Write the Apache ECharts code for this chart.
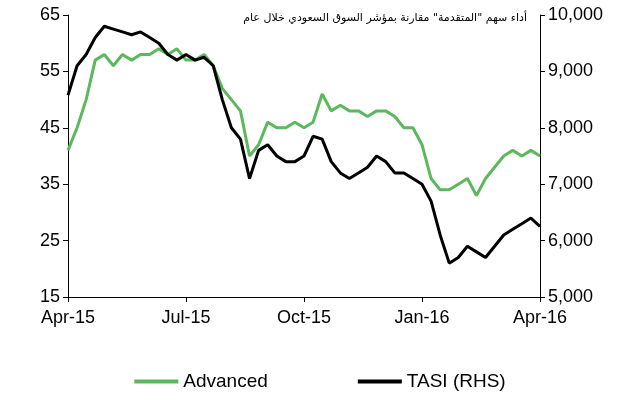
<!DOCTYPE html>
<html>
<head>
<meta charset="utf-8">
<script src="https://cdn.jsdelivr.net/npm/echarts@6/dist/echarts.min.js"></script>
<style>body{margin:0;background:#fff}#c{width:640px;height:400px}</style>
</head>
<body>
<div id="c"></div>
<script>
const weeks = [];
for (let i = 0; i < 53; i++) weeks.push('w' + i);
const tickLabels = { 0: 'Apr-15', 13: 'Jul-15', 26: 'Oct-15', 39: 'Jan-16', 52: 'Apr-16' };
const advanced = [41, 45, 50, 57, 58, 56, 58, 57, 58, 58, 59, 58, 59, 57, 57, 58, 56, 52, 50, 48,
  40, 42, 46, 45, 45, 46, 45, 46, 51, 48, 49, 48, 48, 47, 48, 48, 47, 45, 45, 42,
  36, 34, 34, 35, 36, 33, 36, 38, 40, 41, 40, 41, 40];
const tasi = [8580, 9100, 9300, 9600, 9800, 9750, 9700, 9650, 9700, 9600, 9500, 9300, 9200, 9300, 9200, 9250, 9100, 8500, 8000, 7800,
  7100, 7600, 7700, 7500, 7400, 7400, 7500, 7850, 7800, 7400, 7200, 7100, 7200, 7300, 7500, 7400, 7200, 7200, 7100, 7000,
  6700, 6100, 5600, 5700, 5900, 5800, 5700, 5900, 6100, 6200, 6300, 6400, 6250, 6150];
tasi.length = 53;

const chart = echarts.init(document.getElementById('c'));
chart.setOption({
  animation: false,
  title: {
    text: 'أداء سهم "المتقدمة" مقارنة بمؤشر السوق السعودي خلال عام',
    right: 108, top: 8,
    textStyle: { fontSize: 11, fontWeight: 'normal', color: '#000', fontFamily: 'DejaVu Sans' }
  },
  legend: {
    bottom: 4, itemGap: 90, itemWidth: 44, icon: 'rect', itemHeight: 4,
    textStyle: { fontSize: 19, color: '#000', fontFamily: 'Liberation Sans' },
    data: ['Advanced', 'TASI (RHS)']
  },
  grid: { left: 68, right: 100, top: 15, bottom: 103 },
  xAxis: {
    type: 'category', data: weeks, boundaryGap: false,
    axisLine: { lineStyle: { color: '#000' } },
    axisTick: { show: true, interval: (i) => i in tickLabels, lineStyle: { color: '#000' } },
    axisLabel: {
      interval: (i) => i in tickLabels, formatter: (v, i) => tickLabels[i] || '',
      fontSize: 18, color: '#000', fontFamily: 'Liberation Sans', margin: 12
    }
  },
  yAxis: [
    {
      type: 'value', min: 15, max: 65, interval: 10,
      axisLine: { show: true, lineStyle: { color: '#000' } },
      axisTick: { show: true, lineStyle: { color: '#000' } },
      splitLine: { show: false },
      axisLabel: { fontSize: 18, color: '#000', fontFamily: 'Liberation Sans' }
    },
    {
      type: 'value', min: 5000, max: 10000, interval: 1000,
      axisLine: { show: true, lineStyle: { color: '#000' } },
      axisTick: { show: true, lineStyle: { color: '#000' } },
      splitLine: { show: false },
      axisLabel: { fontSize: 18, color: '#000', fontFamily: 'Liberation Sans',
        formatter: (v) => v.toLocaleString('en-US') }
    }
  ],
  series: [
    { name: 'Advanced', type: 'line', data: advanced, yAxisIndex: 0, showSymbol: false,
      itemStyle: { color: '#5cb85c' }, lineStyle: { color: '#5cb85c', width: 3 } },
    { name: 'TASI (RHS)', type: 'line', data: tasi, yAxisIndex: 1, showSymbol: false,
      itemStyle: { color: '#000' }, lineStyle: { color: '#000', width: 3 } }
  ]
});
</script>
</body>
</html>
